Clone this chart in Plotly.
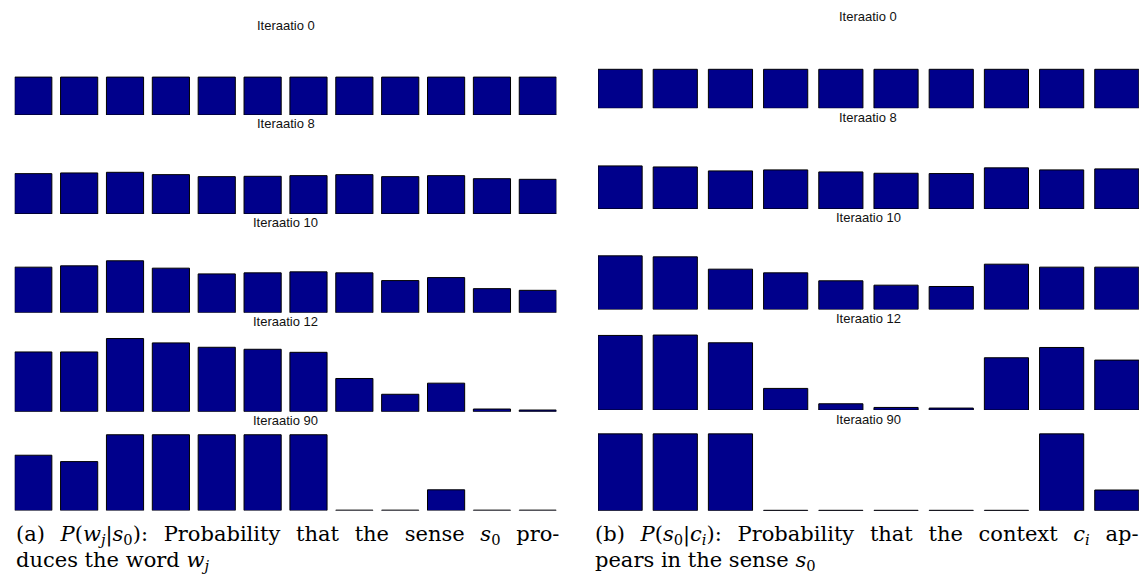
import plotly.graph_objects as go

W, H = 1144, 587

iterations = ["Iteraatio 0", "Iteraatio 8", "Iteraatio 10", "Iteraatio 12", "Iteraatio 90"]

# (a) P(w_j | s_0) for 12 words, per iteration
words = list(range(12))
pw_iter0 = [0.0833] * 12
pw_iter8 = [0.0885, 0.0900, 0.0914, 0.0863, 0.0819, 0.0826, 0.0841, 0.0863, 0.0819, 0.0841, 0.0774, 0.0760]
pw_iter10 = [0.1003, 0.1032, 0.1143, 0.0981, 0.0855, 0.0878, 0.0900, 0.0878, 0.0708, 0.0774, 0.0531, 0.0494]
pw_iter12 = [0.1313, 0.1313, 0.1608, 0.1512, 0.1416, 0.1372, 0.1305, 0.0730, 0.0383, 0.0627, 0.0059, 0.0037]
pw_iter90 = [0.1217, 0.1077, 0.1667, 0.1667, 0.1667, 0.1667, 0.1667, 0.001, 0.001, 0.0457, 0.001, 0.001]

# (b) P(s_0 | c_i) for 10 contexts, per iteration
contexts = list(range(10))
ps_iter0 = [0.5] * 10
ps_iter8 = [0.551, 0.538, 0.487, 0.500, 0.474, 0.457, 0.453, 0.526, 0.500, 0.513]
ps_iter10 = [0.688, 0.675, 0.517, 0.470, 0.368, 0.312, 0.295, 0.581, 0.543, 0.543]
ps_iter12 = [0.957, 0.962, 0.863, 0.278, 0.081, 0.034, 0.026, 0.671, 0.803, 0.641]
ps_iter90 = [0.985, 0.985, 0.985, 0.005, 0.005, 0.005, 0.005, 0.005, 0.985, 0.265]

left_series = [pw_iter0, pw_iter8, pw_iter10, pw_iter12, pw_iter90]
right_series = [ps_iter0, ps_iter8, ps_iter10, ps_iter12, ps_iter90]

caption_a = ["(a) <i>P</i>(<i>w</i><sub><i>j</i></sub>|<i>s</i><sub>0</sub>): Probability that the sense <i>s</i><sub>0</sub> pro-",
             "duces the word <i>w</i><sub><i>j</i></sub>"]
caption_b = ["(b) <i>P</i>(<i>s</i><sub>0</sub>|<i>c</i><sub><i>i</i></sub>): Probability that the context <i>c</i><sub><i>i</i></sub> ap-",
             "pears in the sense <i>s</i><sub>0</sub>"]

BAR = "#00008B"

panels = [
    dict(cats=words, series=left_series, x0=14.7, x1=556.4, w=0.81, bottom0=115.0, step=98.9, pxu=455.0),
    dict(cats=contexts, series=right_series, x0=598.0, x1=1138.9, w=0.80, bottom0=108.3, step=100.6, pxu=78.0),
]
AX_H = 88.0

fig = go.Figure()
layout = dict(width=W, height=H, margin=dict(l=0, r=0, t=0, b=0),
              paper_bgcolor="white", plot_bgcolor="white", showlegend=False)
annotations = []
k = 0
for p in panels:
    n = len(p["cats"])
    for r, vals in enumerate(p["series"]):
        k += 1
        xa = "x" if k == 1 else f"x{k}"
        ya = "y" if k == 1 else f"y{k}"
        bottom = p["bottom0"] + r * p["step"]
        top = bottom - AX_H
        fig.add_trace(go.Bar(x=p["cats"], y=vals, width=p["w"], xaxis=xa, yaxis=ya,
                             marker=dict(color=BAR, line=dict(color="black", width=1)),
                             hoverinfo="skip"))
        layout["xaxis" if k == 1 else f"xaxis{k}"] = dict(
            domain=[p["x0"] / W, p["x1"] / W], range=[-p["w"] / 2, n - 1 + p["w"] / 2],
            visible=False, anchor=ya, fixedrange=True)
        layout["yaxis" if k == 1 else f"yaxis{k}"] = dict(
            domain=[1 - bottom / H, 1 - top / H], range=[0, AX_H / p["pxu"]],
            visible=False, anchor=xa, fixedrange=True)
        ty = bottom - p["step"] + 9
        annotations.append(dict(text=iterations[r], xref="paper", yref="paper",
                                x=(p["x0"] + p["x1"]) / 2 / W, y=1 - ty / H,
                                xanchor="center", yanchor="middle", showarrow=False,
                                font=dict(family="Liberation Sans, Arial", size=13, color="#111111")))


def justify(line):
    # widen inter-word gaps (LaTeX justified first caption line)
    return line.replace(" ", " \u2004\u200a")


cap_font = dict(family="DejaVu Serif, serif", size=21, color="black")
for cap, x in ((caption_a, 14.0), (caption_b, 593.0)):
    for i, line in enumerate(cap):
        txt = justify(line) if i == 0 else line
        annotations.append(dict(text=txt, xref="paper", yref="paper", x=x / W,
                                y=1 - (535 + i * 26) / H, xanchor="left", yanchor="middle",
                                showarrow=False, font=cap_font))

layout["annotations"] = annotations
fig.update_layout(**layout)
fig.write_html("out.html", config={"displayModeBar": False},
               post_script="document.body.style.margin='0';")
